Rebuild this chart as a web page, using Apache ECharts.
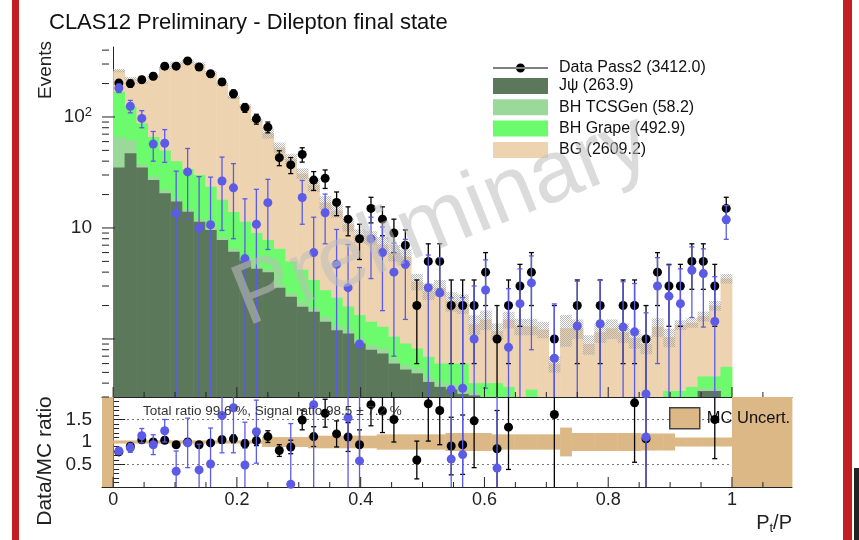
<!DOCTYPE html>
<html>
<head>
<meta charset="utf-8">
<script src="https://cdn.jsdelivr.net/npm/echarts@6.0.0/dist/echarts.min.js"></script>
<style>
html, body { margin: 0; padding: 0; background: #fff; }
#chart { width: 859px; height: 540px; }
</style>
</head>
<body>
<div id="chart"></div>
<script>
// binning: 54 bins on [0, 1] in Pt/P
const nBins = 54;
const binW = 1 / nBins;
const xMin = -0.018, xMax = 1.097;
const yTopMin = 0.3, yTopMax = 427;

// data counts (black) and their errors
const dataCounts = [202,200,217,233,287,287,320,282,245,207, 162,121,96,81,43,37,46,27,28,17,
  12,8,15,12,9,7,2,5,5,2, 2,2,4,1,2,3,4,0,1,0, 2,0,2,0,2,2,1,4,3,3, 5,5,3,15];
const dataErr = [14.2,14.1,14.7,15.3,16.9,16.9,17.9,16.8,15.7,14.4, 12.7,11,9.8,9,6.6,6.1,6.8,5.2,5.3,4.1,
  3.5,2.8,3.9,3.5,3,2.6,1.4,2.2,2.2,1.4, 1.4,1.4,2,1,1.4,1.7,2,0,1,0, 1.4,0,1.4,0,1.4,1.4,1,2,1.7,1.7, 2.2,2.2,1.7,3.9];

// data minus BG (blue)
const sigCounts = [182,125,97,57,58,13.5,32,10,10.7,26.5, 23,5.3,10.8,16.9,null,null,18.8,6.0,13.7,4.7,
  2.9,0.9,8.0,6.0,4.0,4.7,null,2.9,2.6,0.35, 0.36,1.0,2.76,null,0.84,2.08,3.2,null,0.67,null,
  1.31,null,1.37,null,1.28,1.16,0.32,3.0,2.43,2.08, 4.16,3.88,1.44,11.9];
const sigErr = [16,16,17,17,19,19,20,19,18,17, 15,13,11.5,10.5,0,0,8,6.5,6.5,5,
  4.2,3.5,4.5,4.2,3.3,3.2,0,2.8,2.8,2, 2,2,2.4,0,2,2.2,2.4,0,1.4,0, 2,0,2,0,2,2,1.4,2.4,2.2,2.2, 2.6,2.6,2.2,4.0];

// MC stack components
const jpsi = [35,47,35,27,20.5,17.3,14,11.4,9.6,7.8, 6.1,5.1,4.3,4.0,2.9,2.4,1.95,1.76,1.43,1.2,
  1.12,0.91,0.8,0.74,0.6,0.53,0.49,0.41,0.37,0.35, 0.32,0.31,0.25,0.2,0.18,0.15,0.12,0.1,0.1,0.1,
  0.1,0.1,0.1,0.1,0.1,0.1,0.1,0.1,0.12,0.15, 0.2,0.34,0.34,0.15];
const tcsGen = [31,15,2.5,2,1.5,1.0,0.8,0.6,0.5,0.4, 0.35,0.3,0.25,0.2,0.2,0.2,0.2,0.15,0.15,0.12,
  0.1,0.1,0.08,0.08,0.06,0.05,0.05,0.04,0.04,0.04, 0.03,0.02,0.02,0.02,0.02,0.02,0.02,0.02,0.02,0.02,
  0.02,0.02,0.02,0.02,0.02,0.02,0.02,0.02,0.02,0.02, 0.02,0.02,0.02,0.02];
const grape = [103,62,50.5,37,28,21.7,19.2,18,13.4,9.8, 7.5,6,4.45,3.6,3.4,2.4,2.05,1.49,1.17,1.03,
  0.74,0.63,0.55,0.47,0.39,0.33,0.28,0.24,0.19,0.21, 0.25,0.07,0.13,0.18,0.17,0.13,0.21,0.1,0.08,0.08,
  0.08,0.08,0.08,0.08,0.08,0.08,0.1,0.12,0.2,0.17, 0.15,0.1,0.1,0.39];
const bgMC = [93,97,119,167,226,265,286,270,226.5,179, 137,114.6,84,64,46.5,37,26.8,21.1,14.25,12.05,
  8.84,6.86,6.77,5.81,4.95,4.6,2.48,2.01,2.3,1.6, 1.5,0.96,1.1,0.78,1.13,1.0,0.95,1.0,0.4,1.05,
  1.05,0.7,0.95,1.05,0.95,0.82,0.68,1.05,0.7,1.0, 1.03,1.14,1.54,2.94];
// relative MC uncertainty per bin
const mcRelErr = [0.035,0.035,0.035,0.035,0.035,0.035,0.035,0.035,0.035,0.035,
  0.035,0.035,0.035,0.11,0.11,0.11,0.11,0.14,0.14,0.14,
  0.14,0.14,0.14,0.17,0.17,0.17,0.17,0.17,0.17,0.2,
  0.2,0.2,0.2,0.17,0.17,0.17,0.17,0.17,0.17,0.32,
  0.2,0.2,0.2,0.2,0.2,0.2,0.19,0.19,0.19,0.1,
  0.1,0.1,0.1,0.1];

// ratio panel
const ratioData = [0.78,0.906,1.05,1.0,1.04,0.94,1.0,0.94,0.98,1.05, 1.07,0.96,1.03,1.12,0.81,0.89,1.49,1.12,1.64,1.18,
  1.11,0.94,1.83,1.69,1.5,null,0.6,1.85,1.70,0.91, 0.94,1.47,null,0.85,1.33,null,null,null,1.61,null,
  null,null,null,null,null,1.87,1.07,null,null,null, null,null,1.5,null];
const ratioErr = [0.06,0.065,0.07,0.065,0.065,0.06,0.06,0.06,0.065,0.075, 0.085,0.09,0.11,0.13,0.13,0.15,0.22,0.22,0.31,0.29,
  0.32,0.33,0.47,0.48,0.5,0,0.42,0.83,0.76,0.64, 0.66,1.04,0,0.85,0.94,0,0,0,1.61,0,
  0,0,0,0,0,1.32,1.07,0,0,0, 0,0,0.87,0];
const sigRatio = [0.80,0.87,1.14,0.94,1.25,0.35,0.98,0.38,0.51,1.59, 1.76,0.49,1.23,null,null,0.06,null,1.83,null,null,
  1.54,0.58,null,null,null,null,null,null,null,0.62, 0.72,null,null,0.42,null,null,null,null,null,null,
  null,null,null,null,null,null,1.11,null,null,null, null,null,null,null];
const sigRatioErr = [0.07,0.1,0.16,0.22,0.25,0.45,0.55,0.57,0.8,0.83, 1.0,0.95,0.7,0,0,1.35,0,1.9,0,0,
  1.8,1.6,0,0,0,0,0,0,0,2.5, 2.5,0,0,2.5,0,0,0,0,0,0,
  0,0,0,0,0,0,3.0,0,0,0, 0,0,0,0];
// x ranges with no MC: band fills the whole ratio range there
const mcEmptyRanges = [[-0.02, 0], [1.0, 1.1]];

// tick marks
const xTicks = [0,0.05,0.1,0.15,0.2,0.25,0.3,0.35,0.4,0.45,0.5,0.55,0.6,0.65,0.7,0.75,0.8,0.85,0.9,0.95,1.0,1.05];
const logTicks = [0.3,0.4,0.5,0.6,0.7,0.8,0.9,1,2,3,4,5,6,7,8,9,10,20,30,40,50,60,70,80,90,100,200,300,400];
const logMajor = [1, 10, 100];

const FONT = '"Liberation Sans", Arial, Helvetica, sans-serif';
const colJpsi = '#5b785b', colTcs = '#9bd99b', colGrape = '#6cfb6c', colBG = '#edd3b0';
const colBlue = '#5b5be6', colBand = '#dcb887';

function center(i) { return (i + 0.5) * binW; }

// cumulative stack tops
const cumT = jpsi.map((v, i) => v + tcsGen[i]);
const cumG = cumT.map((v, i) => v + grape[i]);
const cumAll = cumG.map((v, i) => v + bgMC[i]);

// checkered pattern for the MC uncertainty in the top pad
const pat = document.createElement('canvas');
pat.width = 2; pat.height = 2;
const pctx = pat.getContext('2d');
pctx.fillStyle = 'rgba(165,165,165,0.8)';
pctx.fillRect(0, 0, 1, 1);
pctx.fillRect(1, 1, 1, 1);

function boxSeries(o) {
  return {
    type: 'custom', name: o.name, xAxisIndex: o.g, yAxisIndex: o.g, z: o.z, silent: true,
    itemStyle: { color: o.color },
    encode: { x: [0, 1], y: 3 },
    data: o.data,
    renderItem: function (params, api) {
      const cs = params.coordSys;
      const y0v = api.value(2), y1v = api.value(3);
      if (o.log && !(y1v > 0)) return null;
      const bottom = cs.y + cs.height, top = cs.y;
      const a = api.coord([api.value(0), y1v]);
      const b = api.coord([api.value(1), (o.log && !(y0v > 0)) ? yTopMin : y0v]);
      const yA = Math.max(top, a[1]), yB = Math.min(bottom, b[1]);
      const xA = Math.max(cs.x, a[0]), xB = Math.min(cs.x + cs.width, b[0]);
      if (yB - yA <= 0 || xB - xA <= 0) return null;
      return { type: 'rect', shape: { x: xA, y: yA, width: xB - xA + 0.4, height: yB - yA },
        style: { fill: o.fill || o.color } };
    }
  };
}

function histData(tops) {
  return tops.map((t, i) => [i * binW, (i + 1) * binW, 0, t]);
}

function errSeries(g, vals, errs, color, isLog, z) {
  const data = [];
  vals.forEach((v, i) => { if (v !== null && v > 0 && errs[i] > 0) data.push([center(i), v, errs[i]]); });
  return {
    type: 'custom', xAxisIndex: g, yAxisIndex: g, z: z, silent: true,
    encode: { x: 0, y: 1 }, data: data,
    renderItem: function (params, api) {
      const cs = params.coordSys;
      const x = api.value(0), y = api.value(1), e = api.value(2);
      const bottom = cs.y + cs.height, top = cs.y;
      const pHi = api.coord([x, y + e]);
      const lo = y - e;
      let yLo = (isLog && lo <= 0) ? bottom + 10 : api.coord([x, lo])[1];
      const yHi = Math.max(top, pHi[1]);
      yLo = Math.min(bottom, yLo);
      const px = pHi[0];
      const st = { stroke: color, lineWidth: 1.3 };
      const ch = [{ type: 'line', shape: { x1: px, y1: yHi, x2: px, y2: yLo }, style: st }];
      if (yHi > top + 0.5) ch.push({ type: 'line', shape: { x1: px - 2.5, y1: yHi, x2: px + 2.5, y2: yHi }, style: st });
      if (yLo < bottom - 0.5) ch.push({ type: 'line', shape: { x1: px - 2.5, y1: yLo, x2: px + 2.5, y2: yLo }, style: st });
      return { type: 'group', children: ch };
    }
  };
}

function pointSeries(name, g, vals, color, z) {
  const data = [];
  vals.forEach((v, i) => { if (v !== null && v > 0) data.push([center(i), v]); });
  return { type: 'scatter', name: name, xAxisIndex: g, yAxisIndex: g, z: z, silent: true,
    symbol: 'circle', symbolSize: 9, itemStyle: { color: color, opacity: 1 }, data: data };
}

function tickSeries(g, items, render) {
  return { type: 'custom', xAxisIndex: g, yAxisIndex: g, z: 20, silent: true,
    encode: { x: 0, y: 1 }, data: items, renderItem: render };
}

const tickStyle = { stroke: '#222', lineWidth: 1 };
function isMajorX(v) { return Math.abs(v / 0.2 - Math.round(v / 0.2)) < 1e-6; }

const bandTop = cumAll.map((m, i) => [i * binW, (i + 1) * binW, m * (1 - mcRelErr[i]), m * (1 + mcRelErr[i])]);
const bandRatio = mcRelErr.map((e, i) => [i * binW, (i + 1) * binW, 1 - e, 1 + e])
  .concat(mcEmptyRanges.map(r => [r[0], r[1], 0, 2]));

const series = [
  boxSeries({ name: 'BG (2609.2)', g: 0, z: 1, color: colBG, log: true, data: histData(cumAll) }),
  boxSeries({ name: 'BH Grape (492.9)', g: 0, z: 2, color: colGrape, log: true, data: histData(cumG) }),
  boxSeries({ name: 'BH TCSGen (58.2)', g: 0, z: 3, color: colTcs, log: true, data: histData(cumT) }),
  boxSeries({ name: 'J\u03c8 (263.9)', g: 0, z: 4, color: colJpsi, log: true, data: histData(jpsi) }),
  boxSeries({ g: 0, z: 5, color: '#bbb', fill: { image: pat, repeat: 'repeat' }, log: true, data: bandTop }),
  errSeries(0, dataCounts, dataErr, '#000', true, 10),
  pointSeries('Data Pass2 (3412.0)', 0, dataCounts, '#000', 11),
  errSeries(0, sigCounts, sigErr, colBlue, true, 12),
  pointSeries('signal', 0, sigCounts, colBlue, 13),

  boxSeries({ name: 'MC Uncert.', g: 1, z: 1, color: colBand, data: bandRatio }),
  errSeries(1, ratioData, ratioErr, '#000', false, 10),
  pointSeries('ratio', 1, ratioData, '#000', 11),
  errSeries(1, sigRatio, sigRatioErr, colBlue, false, 12),
  pointSeries('sigratio', 1, sigRatio, colBlue, 13),

  tickSeries(0, logTicks.map(v => [xMin, v]), function (params, api) {
    const v = api.value(1);
    const p = api.coord([xMin, v]);
    const len = logMajor.indexOf(v) >= 0 ? 13 : 7;
    return { type: 'line', shape: { x1: p[0], y1: p[1], x2: p[0] + len, y2: p[1] }, style: tickStyle };
  }),
  tickSeries(0, xTicks.map(v => [v, yTopMin]), function (params, api) {
    const v = api.value(0);
    const p = api.coord([v, yTopMin]);
    const len = isMajorX(v) ? 10 : 5;
    return { type: 'line', shape: { x1: p[0], y1: p[1], x2: p[0], y2: p[1] - len }, style: tickStyle };
  }),
  tickSeries(1, xTicks.map(v => [v, 0]), function (params, api) {
    const v = api.value(0);
    const p = api.coord([v, 0]);
    const len = isMajorX(v) ? 10 : 5;
    return { type: 'line', shape: { x1: p[0], y1: p[1], x2: p[0], y2: p[1] - len }, style: tickStyle };
  })
];

const axisLine = { show: true, lineStyle: { color: '#222', width: 1 } };

const option = {
  animation: false,
  backgroundColor: '#fff',
  textStyle: { fontFamily: FONT },
  grid: [
    { left: 102, top: 47, width: 690, height: 350, outerBoundsMode: 'none' },
    { left: 102, top: 397, width: 690, height: 90, outerBoundsMode: 'none' }
  ],
  xAxis: [
    { type: 'value', gridIndex: 0, min: xMin, max: xMax, axisLine: axisLine,
      axisTick: { show: false }, axisLabel: { show: false }, splitLine: { show: false } },
    { type: 'value', gridIndex: 1, min: xMin, max: xMax, splitNumber: 5, axisLine: axisLine,
      axisTick: { show: false }, splitLine: { show: false },
      axisLabel: { fontSize: 18, color: '#222', fontFamily: FONT, margin: 4,
        showMinLabel: true, showMaxLabel: true,
        formatter: function (v) {
          const r = Math.round(v * 10) / 10;
          if (Math.abs(v - r) > 1e-6 || r < 0 || r > 1) return '';
          return String(r);
        } } }
  ],
  yAxis: [
    { type: 'log', gridIndex: 0, min: yTopMin, max: yTopMax, logBase: 10, axisLine: axisLine,
      axisTick: { show: false }, splitLine: { show: false },
      axisLabel: { color: '#222', fontFamily: FONT, margin: 10,
        rich: { a: { fontSize: 19, fontFamily: FONT, color: '#222' },
                b: { fontSize: 13, fontFamily: FONT, color: '#222', verticalAlign: 'top', padding: [0, 0, 10, 0] } },
        formatter: function (v) {
          if (Math.abs(v - 10) < 1e-6) return '{a|10}';
          if (Math.abs(v - 100) < 1e-4) return '{a|10}{b|2}';
          return '';
        } } },
    { type: 'value', gridIndex: 1, min: 0, max: 2, interval: 0.5, axisLine: axisLine,
      axisTick: { show: true, inside: true, length: 12, lineStyle: { color: '#222' } },
      minorTick: { show: true, splitNumber: 5, length: 6, lineStyle: { color: '#222' } },
      splitLine: { show: true, lineStyle: { color: '#777', type: [2, 3], width: 1 } },
      axisLabel: { fontSize: 19, color: '#222', fontFamily: FONT, margin: 10,
        formatter: function (v) {
          if (Math.abs(v - 0.5) < 1e-6) return '0.5';
          if (Math.abs(v - 1) < 1e-6) return '1';
          if (Math.abs(v - 1.5) < 1e-6) return '1.5';
          return '';
        } } }
  ],
  legend: [
    { data: ['Data Pass2 (3412.0)'], left: 493, top: 60, padding: 0, selectedMode: false,
      itemWidth: 55, itemHeight: 9,
      icon: 'path://M0,3.9h55v1.2h-55z M23,4.5a4.5,4.5 0 1,0 9,0a4.5,4.5 0 1,0 -9,0z',
      textStyle: { fontSize: 16, color: '#111', fontFamily: FONT, padding: [0, 0, 0, 6] } },
    { data: ['J\u03c8 (263.9)', 'BH TCSGen (58.2)', 'BH Grape (492.9)', 'BG (2609.2)'],
      orient: 'vertical', left: 493, top: 78, padding: 0, selectedMode: false,
      itemWidth: 55, itemHeight: 16, itemGap: 5.3, icon: 'rect',
      textStyle: { fontSize: 16, color: '#111', fontFamily: FONT, padding: [0, 0, 0, 6] } },
    { data: ['MC Uncert.'], left: 669, top: 407, padding: 0, selectedMode: false,
      itemWidth: 30, itemHeight: 21, icon: 'rect',
      itemStyle: { borderColor: '#444', borderWidth: 1.5 },
      textStyle: { fontSize: 16.5, color: '#111', fontFamily: FONT, padding: [0, 0, 0, 2] } }
  ],
  graphic: [
    { type: 'rect', shape: { x: 12, y: 0, width: 7, height: 540 }, style: { fill: '#c41e22' }, z: 100 },
    { type: 'rect', shape: { x: 843, y: 0, width: 9, height: 540 }, style: { fill: '#c41e22' }, z: 100 },
    { type: 'rect', shape: { x: 854, y: 468, width: 5, height: 72 }, style: { fill: '#222' }, z: 100 },
    { type: 'text', x: 49, y: 23, z: 100,
      style: { text: 'CLAS12 Preliminary - Dilepton final state', fontSize: 22, fontFamily: FONT,
        fill: '#111', align: 'left', verticalAlign: 'middle' } },
    { type: 'text', x: 46, y: 70, rotation: Math.PI / 2, z: 100,
      style: { text: 'Events', fontSize: 19, fontFamily: FONT, fill: '#222', align: 'center', verticalAlign: 'middle' } },
    { type: 'text', x: 45, y: 461, rotation: Math.PI / 2, z: 100,
      style: { text: 'Data/MC ratio', fontSize: 21, fontFamily: FONT, fill: '#222', align: 'center', verticalAlign: 'middle' } },
    { type: 'text', x: 792, y: 523, z: 100,
      style: { text: '{a|P}{b|t}{a|/P}', align: 'right', verticalAlign: 'middle',
        rich: { a: { fontSize: 20, fontFamily: FONT, fill: '#222' },
                b: { fontSize: 13, fontFamily: FONT, fill: '#222', padding: [10, 0, 0, 0] } } } },
    { type: 'text', x: 143, y: 411, z: 100,
      style: { text: 'Total ratio 99.6 %, Signal ratio 98.5 \u00b1 7.2 %', fontSize: 13.5, fontFamily: FONT,
        fill: '#333', align: 'left', verticalAlign: 'middle' } },
    { type: 'text', x: 238, y: 304, rotation: 22 * Math.PI / 180, z: 110,
      style: { text: 'Preliminary', fontSize: 88, fontFamily: FONT, fill: 'rgba(190,190,190,0.55)',
        align: 'left', verticalAlign: 'middle' } }
  ],
  series: series
};

const chart = echarts.init(document.getElementById('chart'));
chart.setOption(option);
</script>
</body>
</html>
